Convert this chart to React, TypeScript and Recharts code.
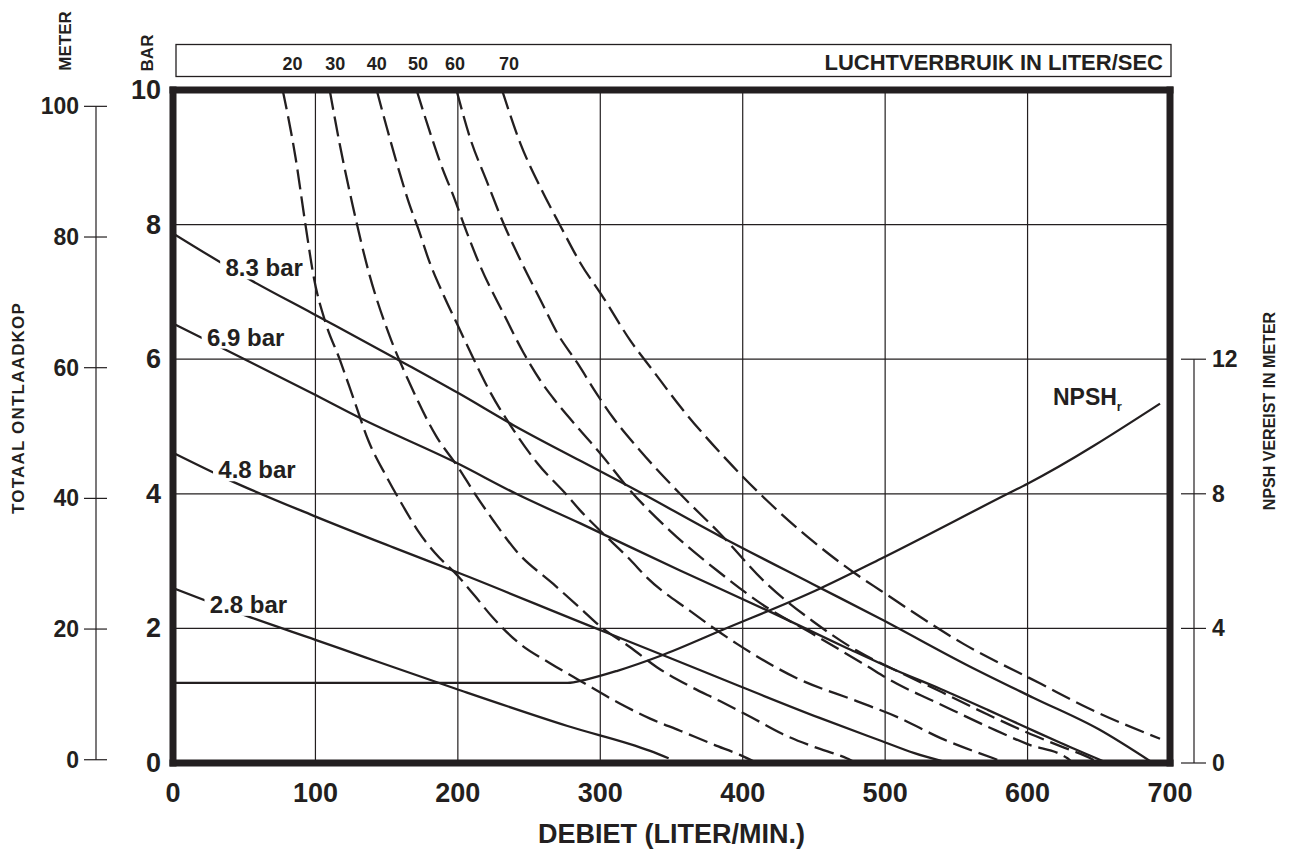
import React from 'react';
import { CartesianGrid, Line, LineChart, ReferenceDot, XAxis, YAxis } from 'recharts';

const INK = '#231f20';
const FONT = "'Liberation Sans', Arial, sans-serif";

// axes
const flowTicks = [0, 100, 200, 300, 400, 500, 600, 700];
const barTicks = [0, 2, 4, 6, 8, 10];
const meterTicks = [0, 20, 40, 60, 80, 100];
const npshTicks = [0, 4, 8, 12];

// air consumption labels in the top box (placed at flow positions)
const airLabels = ['20', '30', '40', '50', '60', '70'];
const airLabelFlow = [84, 114, 143, 172, 198, 236];

// dashed curves: air consumption (flow l/min, bar)
const air20 = [[77, 10], [86, 9], [93, 8], [99, 7.2], [107, 6.55], [117, 6.0], [127, 5.4], [137, 4.8], [150, 4.25], [162, 3.8], [172, 3.45], [184, 3.12], [200, 2.78], [212, 2.48], [225, 2.15], [243, 1.78], [265, 1.48], [286, 1.22], [314, 0.88], [335, 0.66], [356, 0.48], [380, 0.27], [398, 0.12], [410, 0]];
const air30 = [[110, 10], [117, 9.2], [126, 8.3], [138, 7.25], [152, 6.35], [166, 5.65], [185, 4.85], [200, 4.4], [212, 4.0], [225, 3.6], [241, 3.15], [267, 2.66], [286, 2.3], [300, 2.03], [321, 1.72], [340, 1.42], [362, 1.15], [384, 0.92], [406, 0.68], [428, 0.43], [450, 0.24], [473, 0.07], [480, 0]];
const air40 = [[143, 10], [150, 9.45], [158, 8.85], [166, 8.3], [172, 7.95], [180, 7.45], [190, 6.95], [200, 6.5], [210, 6.05], [223, 5.5], [239, 4.95], [256, 4.45], [277, 3.97], [286, 3.75], [300, 3.45], [321, 3.02], [333, 2.75], [363, 2.26], [396, 1.77], [438, 1.26], [480, 0.92], [510, 0.67], [539, 0.37], [576, 0.07], [585, 0]];
const air50 = [[171, 10], [180, 9.4], [188, 8.9], [197, 8.42], [206, 7.9], [216, 7.37], [232, 6.68], [246, 6.1], [258, 5.68], [267, 5.42], [286, 4.94], [300, 4.6], [321, 4.05], [349, 3.45], [382, 2.86], [417, 2.31], [449, 1.92], [485, 1.47], [508, 1.18], [534, 0.92], [574, 0.52], [600, 0.28], [628, 0.07], [632, 0]];
const air60 = [[199, 10], [209, 9.26], [220, 8.66], [232, 8.02], [244, 7.47], [258, 6.88], [270, 6.38], [284, 5.94], [298, 5.47], [309, 5.13], [328, 4.64], [356, 4.0], [384, 3.41], [417, 2.66], [449, 2.11], [480, 1.67], [508, 1.37], [540, 1.05], [572, 0.72], [600, 0.45], [623, 0.25], [646, 0.05], [650, 0]];
const air70 = [[231, 10], [244, 9.2], [258, 8.55], [272, 7.98], [286, 7.43], [302, 6.92], [321, 6.28], [337, 5.83], [356, 5.3], [389, 4.5], [417, 3.9], [449, 3.3], [478, 2.83], [497, 2.56], [555, 1.77], [609, 1.18], [642, 0.82], [693, 0.36]];

// solid curves: air inlet pressure (flow l/min, bar)
const p83 = [[0, 7.87], [55, 7.17], [98, 6.68], [166, 5.9], [200, 5.5], [239, 5.02], [286, 4.49], [321, 4.1], [384, 3.37], [449, 2.66], [497, 2.14], [558, 1.45], [604, 0.97], [650, 0.5], [688, 0]];
const p69 = [[0, 6.53], [38, 6.13], [98, 5.49], [131, 5.13], [200, 4.45], [241, 4.0], [286, 3.56], [356, 2.86], [418, 2.26], [473, 1.71], [505, 1.4], [539, 1.1], [572, 0.79], [600, 0.52], [623, 0.3], [656, 0]];
const p48 = [[0, 4.61], [40, 4.2], [98, 3.68], [155, 3.2], [200, 2.83], [290, 2.06], [342, 1.62], [398, 1.14], [454, 0.67], [497, 0.33], [520, 0.15], [545, 0]];
const p28 = [[0, 2.6], [55, 2.16], [100, 1.83], [135, 1.57], [199, 1.1], [277, 0.55], [335, 0.18], [348, 0.07]];

// NPSH required (flow l/min, meter)
const npsh = [[0, 2.38], [277, 2.38], [290, 2.48], [312, 2.74], [342, 3.18], [386, 3.96], [454, 5.18], [497, 6.07], [586, 8.0], [600, 8.3], [693, 10.68]];

// curve labels
const barLabelText = ['8.3 bar', '6.9 bar', '4.8 bar', '2.8 bar'];
const barLabelQ = [64, 51, 59, 53];
const barLabelV = [7.35, 6.32, 4.35, 2.35];

const dashedCurves = [air20, air30, air40, air50, air60, air70];
const solidCurves = [p83, p69, p48, p28];

const toRows = (pts: number[][]) => pts.map(([q, v]) => ({ q, v }));

const W = 1296;
const H = 850;
const TOP = 90;
const BOTTOM_AXIS = 87;
const PLOT_H = H - TOP - BOTTOM_AXIS;
const METER_MIN = -0.5;
const METER_MAX = 102.5;

const bold = { fontFamily: FONT, fontWeight: 700, fill: INK } as const;

function rotated(x: number, y: number, text: string, size: number, spacing = 0) {
  return (
    <text
      transform={`translate(${x},${y}) rotate(-90)`}
      textAnchor="middle"
      dy="0.36em"
      fontSize={size}
      letterSpacing={spacing}
      {...bold}
    >
      {text}
    </text>
  );
}

const BarTick = (p: any) => (
  <text x={p.x - 12} y={p.y + 9} textAnchor="end" fontSize={27} {...bold}>
    {p.payload.value}
  </text>
);

const MeterTick = (p: any) => {
  const step = (PLOT_H * 100) / (METER_MAX - METER_MIN);
  return (
    <g>
      <line x1={p.x - 12} x2={p.x + 11} y1={p.y} y2={p.y} stroke={INK} strokeWidth={1.2} />
      {p.payload.value === 0 ? (
        <line x1={p.x} x2={p.x} y1={p.y} y2={p.y - step} stroke={INK} strokeWidth={1.2} />
      ) : null}
      <text x={p.x - 17} y={p.y + 8} textAnchor="end" fontSize={23} {...bold}>
        {p.payload.value}
      </text>
    </g>
  );
};

const NpshTick = (p: any) => {
  const ax = p.x + 24;
  return (
    <g>
      <line x1={ax - 13} x2={ax + 12} y1={p.y} y2={p.y} stroke={INK} strokeWidth={1.2} />
      {p.payload.value === 0 ? (
        <line x1={ax} x2={ax} y1={p.y} y2={p.y - PLOT_H * 0.6} stroke={INK} strokeWidth={1.2} />
      ) : null}
      <text x={ax + 18} y={p.y + 8} textAnchor="start" fontSize={23} {...bold}>
        {p.payload.value}
      </text>
    </g>
  );
};

const FlowTick = (p: any) => (
  <text x={p.x} y={p.y + 39} textAnchor="middle" fontSize={27} {...bold}>
    {p.payload.value}
  </text>
);

const AirTick = (p: any) => {
  const i = airLabelFlow.indexOf(p.payload.value);
  return (
    <text x={p.x} y={p.y - 20} textAnchor="middle" fontSize={18} {...bold}>
      {airLabels[i]}
    </text>
  );
};

const barTag = (text: string) => (p: any) => (
  <g>
    <rect x={p.cx - 44} y={p.cy - 12} width={88} height={23} fill="#fff" />
    <text x={p.cx} y={p.cy + 8} textAnchor="middle" fontSize={24} {...bold}>
      {text}
    </text>
  </g>
);

const npshTag = (p: any) => (
  <text x={p.cx - 33} y={p.cy + 9} fontSize={23} {...bold}>
    NPSH
    <tspan fontSize={13} dy={6}>
      r
    </tspan>
  </text>
);

const thickLine = { stroke: INK, strokeWidth: 7, strokeLinecap: 'square' as const };

export default function App() {
  return (
    <div style={{ position: 'absolute', left: 0, top: 0, width: W, height: H, background: '#fff' }}>
      <LineChart width={W} height={H} margin={{ top: 45, right: 0, bottom: 0, left: 20 }}>
        <CartesianGrid xAxisId="q" yAxisId="b" stroke={INK} strokeWidth={1.2} />
        <XAxis
          xAxisId="q"
          dataKey="q"
          type="number"
          domain={[0, 700]}
          allowDataOverflow
          ticks={flowTicks}
          interval={0}
          height={BOTTOM_AXIS}
          tickSize={0}
          tickMargin={0}
          tickLine={false}
          axisLine={thickLine}
          tick={FlowTick}
          label={{
            content: (lp: any) => (
              <text
                x={lp.viewBox.x + lp.viewBox.width / 2}
                y={lp.viewBox.y + 80}
                textAnchor="middle"
                fontSize={27}
                {...bold}
              >
                DEBIET (LITER/MIN.)
              </text>
            ),
          }}
        />
        <XAxis
          xAxisId="air"
          dataKey="q"
          orientation="top"
          type="number"
          domain={[0, 700]}
          allowDataOverflow
          ticks={airLabelFlow}
          interval={0}
          height={45}
          tickSize={0}
          tickMargin={0}
          tickLine={false}
          axisLine={thickLine}
          tick={AirTick}
          label={{
            content: (lp: any) => (
              <g>
                <rect
                  x={lp.viewBox.x + 3}
                  y={lp.viewBox.y - 0.5}
                  width={lp.viewBox.width - 2}
                  height={32}
                  fill="none"
                  stroke={INK}
                  strokeWidth={1.3}
                />
                <text x={lp.viewBox.x + lp.viewBox.width - 7} y={lp.viewBox.y + 25} textAnchor="end" fontSize={22} {...bold}>
                  LUCHTVERBRUIK IN LITER/SEC
                </text>
              </g>
            ),
          }}
        />
        <YAxis
          yAxisId="b"
          type="number"
          domain={[0, 10]}
          allowDataOverflow
          ticks={barTicks}
          interval={0}
          width={77}
          tickSize={0}
          tickMargin={0}
          tickLine={false}
          axisLine={thickLine}
          tick={BarTick}
          label={{ content: (lp: any) => rotated(lp.viewBox.x + 51, 53, 'BAR', 17) }}
        />
        <YAxis
          yAxisId="m"
          type="number"
          domain={[METER_MIN, METER_MAX]}
          allowDataOverflow
          ticks={meterTicks}
          interval={0}
          width={76}
          tickSize={0}
          tickMargin={0}
          tickLine={false}
          axisLine={false}
          tick={MeterTick}
          label={{
            content: (lp: any) => (
              <g>
                {rotated(lp.viewBox.x + 45, 41, 'METER', 17)}
                {rotated(lp.viewBox.x - 2, 408, 'TOTAAL ONTLAADKOP', 17, 1.2)}
              </g>
            ),
          }}
        />
        <YAxis
          yAxisId="n"
          orientation="right"
          type="number"
          domain={[0, 20]}
          allowDataOverflow
          ticks={npshTicks}
          interval={0}
          width={126}
          tickSize={0}
          tickMargin={0}
          tickLine={false}
          axisLine={thickLine}
          tick={NpshTick}
          label={{ content: (lp: any) => rotated(lp.viewBox.x + 99, 411, 'NPSH VEREIST IN METER', 16) }}
        />

        {dashedCurves.map((c, i) => (
          <Line
            key={`air-${airLabels[i]}`}
            xAxisId="air"
            yAxisId="b"
            data={toRows(c)}
            dataKey="v"
            type="monotone"
            stroke={INK}
            strokeWidth={2.3}
            strokeDasharray="20 7"
            dot={false}
            activeDot={false}
            isAnimationActive={false}
          />
        ))}
        {solidCurves.map((c, i) => (
          <Line
            key={`p-${barLabelText[i]}`}
            xAxisId="q"
            yAxisId="b"
            data={toRows(c)}
            dataKey="v"
            type="monotone"
            stroke={INK}
            strokeWidth={2.3}
            dot={false}
            activeDot={false}
            isAnimationActive={false}
          />
        ))}
        <Line
          xAxisId="q"
          yAxisId="n"
          data={toRows(npsh)}
          dataKey="v"
          type="monotone"
          stroke={INK}
          strokeWidth={2.3}
          dot={false}
          activeDot={false}
          isAnimationActive={false}
        />

        {barLabelText.map((t, i) => (
          <ReferenceDot
            key={t}
            xAxisId="q"
            yAxisId="b"
            x={barLabelQ[i]}
            y={barLabelV[i]}
            r={0}
            shape={barTag(t)}
          />
        ))}
        <ReferenceDot xAxisId="q" yAxisId="b" x={641} y={5.45} r={0} shape={npshTag} />
      </LineChart>
    </div>
  );
}
